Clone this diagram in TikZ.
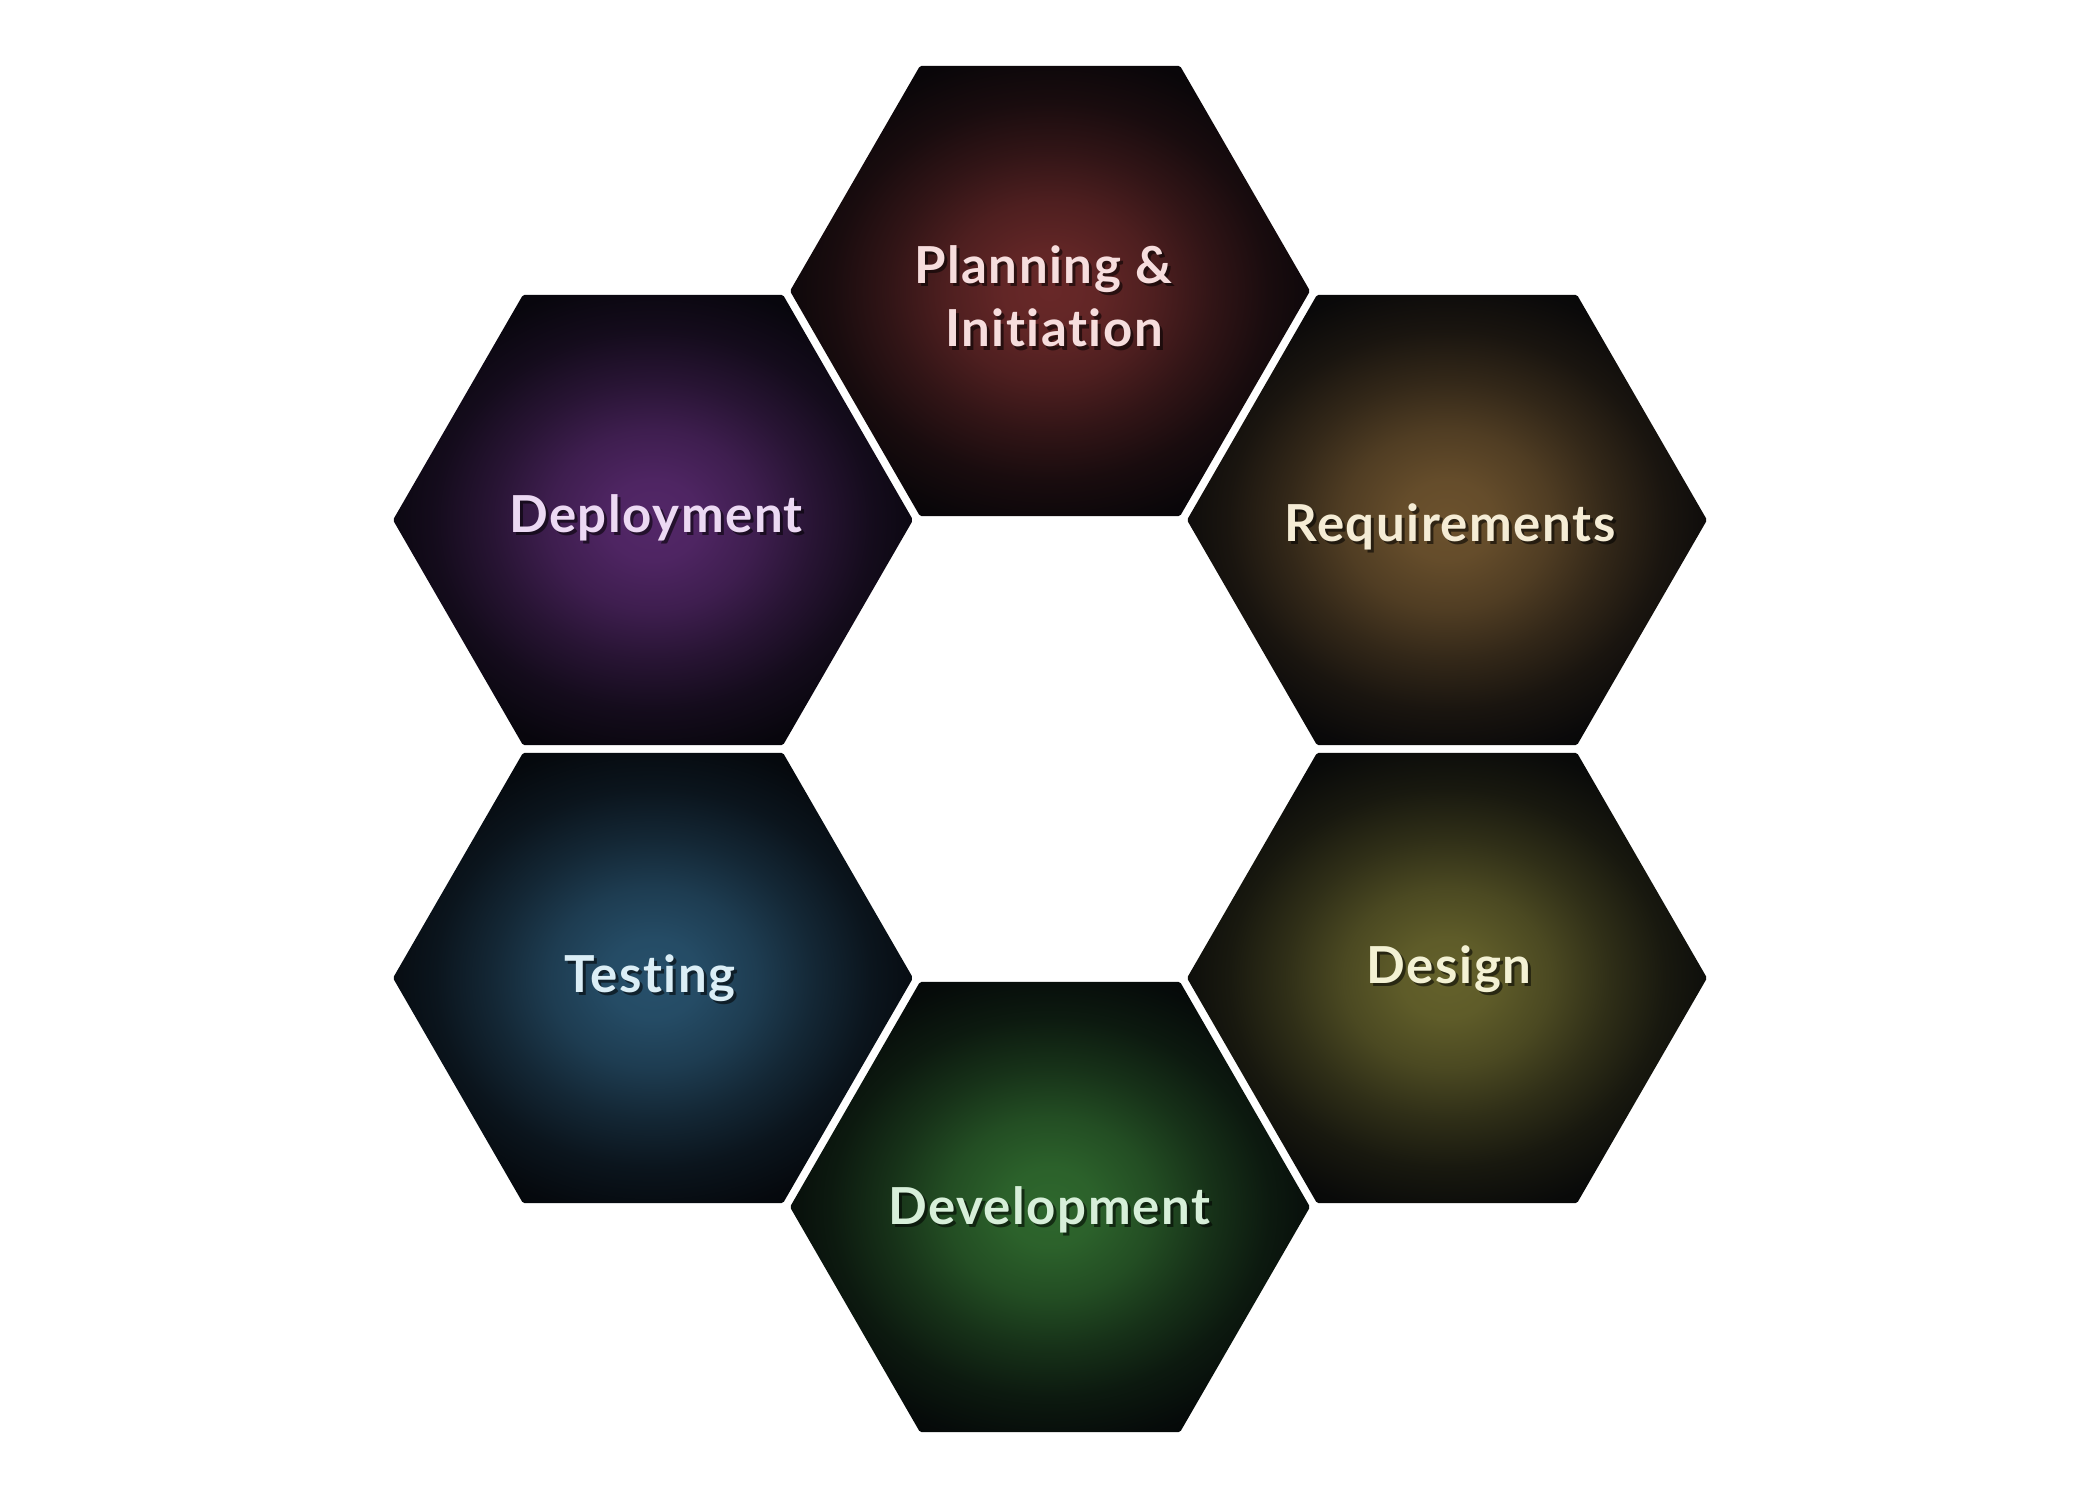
\documentclass[tikz,border=0pt]{standalone}
\usepackage{fontspec}
\newfontfamily\hexfont[LetterSpace=3,Ligatures=NoCommon]{Lato}

% base colour at the rim of every cell
\definecolor{hexbase}{HTML}{030407}

% radial glow: #1 = shading name, #2 = centre colour (HTML)
\newcommand{\makeglow}[2]{%
  \definecolor{#1c}{HTML}{#2}%
  \colorlet{#1a}{#1c!94!hexbase}%
  \colorlet{#1b}{#1c!74!hexbase}%
  \colorlet{#1d}{#1c!46!hexbase}%
  \colorlet{#1e}{#1c!22!hexbase}%
  \colorlet{#1f}{#1c!7!hexbase}%
  \pgfdeclareradialshading{#1}{\pgfpoint{0bp}{0bp}}{%
    color(0bp)=(#1c); color(4.5bp)=(#1a); color(10bp)=(#1b); color(15.5bp)=(#1d);
    color(21bp)=(#1e); color(26.5bp)=(#1f); color(31bp)=(hexbase); color(50bp)=(hexbase)}}

\makeglow{glowplan}{682828}
\makeglow{glowreq}{6B512D}
\makeglow{glowdes}{64612B}
\makeglow{glowdev}{2E672D}
\makeglow{glowtest}{27506B}
\makeglow{glowdep}{532768}

\definecolor{txtplan}{HTML}{F6DDDD}
\definecolor{txtreq}{HTML}{F5ECD5}
\definecolor{txtdes}{HTML}{F3F1D3}
\definecolor{txtdev}{HTML}{D7EFD9}
\definecolor{txttest}{HTML}{DBEEF6}
\definecolor{txtdep}{HTML}{ECD9F3}

% flat-topped hexagon, circumradius 260, centred at (#1,#2), glow #3
\newcommand{\hexcell}[3]{%
  \begin{scope}[shift={(#1,#2)}]
    \shade[shading=#3, rounded corners=0.5pt]
      (260,0) -- (130,225.2) -- (-130,225.2) -- (-260,0)
      -- (-130,-225.2) -- (130,-225.2) -- cycle;
  \end{scope}}

% label with a soft drop shadow: name, x, y (baseline), colour, text
\newcommand{\hexlabel}[5]{%
  \node[lbl, text=black, opacity=0.55] (#1s) at (#2+3,#3+3) {#5};
  \node[lbl, text=#4] (#1) at (#2,#3) {#5};}

\begin{document}
\begin{tikzpicture}[
    x=0.01cm, y=-0.01cm,
    lbl/.style={font=\hexfont\bfseries\fontsize{14.5}{17}\selectfont,
                anchor=base, inner sep=0pt}]
  \useasboundingbox (0,0) rectangle (2100,1500);
  \fill[white] (0,0) rectangle (2100,1500);

  % ring of six cells
  \hexcell{1050}{291}{glowplan}
  \hexcell{1447}{520}{glowreq}
  \hexcell{1447}{978}{glowdes}
  \hexcell{1050}{1207}{glowdev}
  \hexcell{653}{978}{glowtest}
  \hexcell{653}{520}{glowdep}

  % phase names
  \hexlabel{plana}{1043}{284}{txtplan}{Planning \&}
  \hexlabel{planb}{1054}{347}{txtplan}{Initiation}
  \hexlabel{req}{1450}{541}{txtreq}{Requirements}
  \hexlabel{des}{1449}{983}{txtdes}{Design}
  \hexlabel{dev}{1049}{1224}{txtdev}{Development}
  \hexlabel{test}{650}{992}{txttest}{Testing}
  \hexlabel{dep}{656}{532}{txtdep}{Deployment}
\end{tikzpicture}
\end{document}
